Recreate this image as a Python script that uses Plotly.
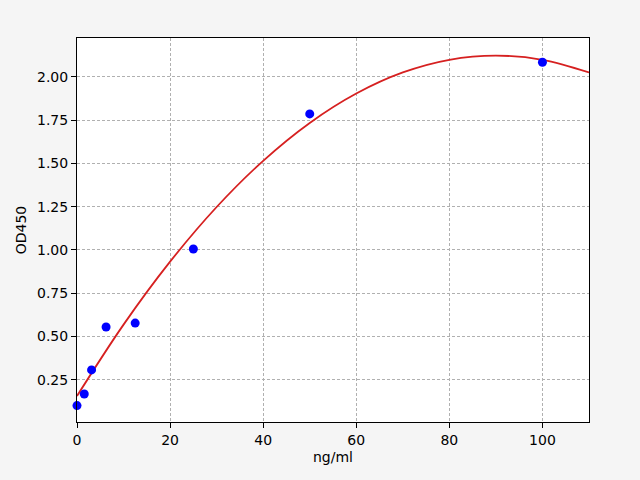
import plotly.graph_objects as go

# standard points
conc = [0, 1.5625, 3.125, 6.25, 12.5, 25, 50, 100]
od450 = [0.100, 0.167, 0.306, 0.554, 0.577, 1.005, 1.786, 2.085]

# fitted curve
curve_x = [0, 10, 20, 30, 40, 50, 60, 70, 80, 90, 100, 110]
curve_y = [0.155, 0.568, 0.932, 1.248, 1.515, 1.734, 1.904, 2.026, 2.099, 2.123, 2.099, 2.026]

y_ticks = [0.25, 0.50, 0.75, 1.00, 1.25, 1.50, 1.75, 2.00]
x_ticks = [0, 20, 40, 60, 80, 100]

fig = go.Figure()

fig.add_trace(go.Scatter(x=curve_x, y=curve_y, mode='lines',
                         line=dict(color='#d62020', width=1.8, shape='spline', smoothing=1.0),
                         hoverinfo='skip'))
fig.add_trace(go.Scatter(x=conc, y=od450, mode='markers',
                         marker=dict(color='#0000ff', size=9),
                         cliponaxis=False))

axis_style = dict(showline=True, linecolor='black', linewidth=1, mirror=True,
                  ticks='outside', ticklen=5, tickcolor='black',
                  showgrid=True, gridcolor='#b0b0b0', griddash='3px,2px', gridwidth=1,
                  zeroline=False, tickfont=dict(size=14, color='black'))

fig.update_layout(
    width=640, height=480,
    paper_bgcolor='#f5f5f5', plot_bgcolor='white',
    margin=dict(l=77, r=51, t=38, b=58),
    showlegend=False,
    font=dict(family='DejaVu Sans', size=14, color='black'),
    xaxis=dict(range=[0, 110], tickvals=x_ticks,
               title=dict(text='ng/ml', font=dict(size=14), standoff=5), **axis_style),
    yaxis=dict(range=[0.005, 2.225], tickvals=y_ticks, ticktext=['%.2f' % v for v in y_ticks],
               title=dict(text='OD450', font=dict(size=14), standoff=7), **axis_style),
)

fig.write_html("out.html", config={'displayModeBar': False},
               post_script="document.body.style.margin='0';")
